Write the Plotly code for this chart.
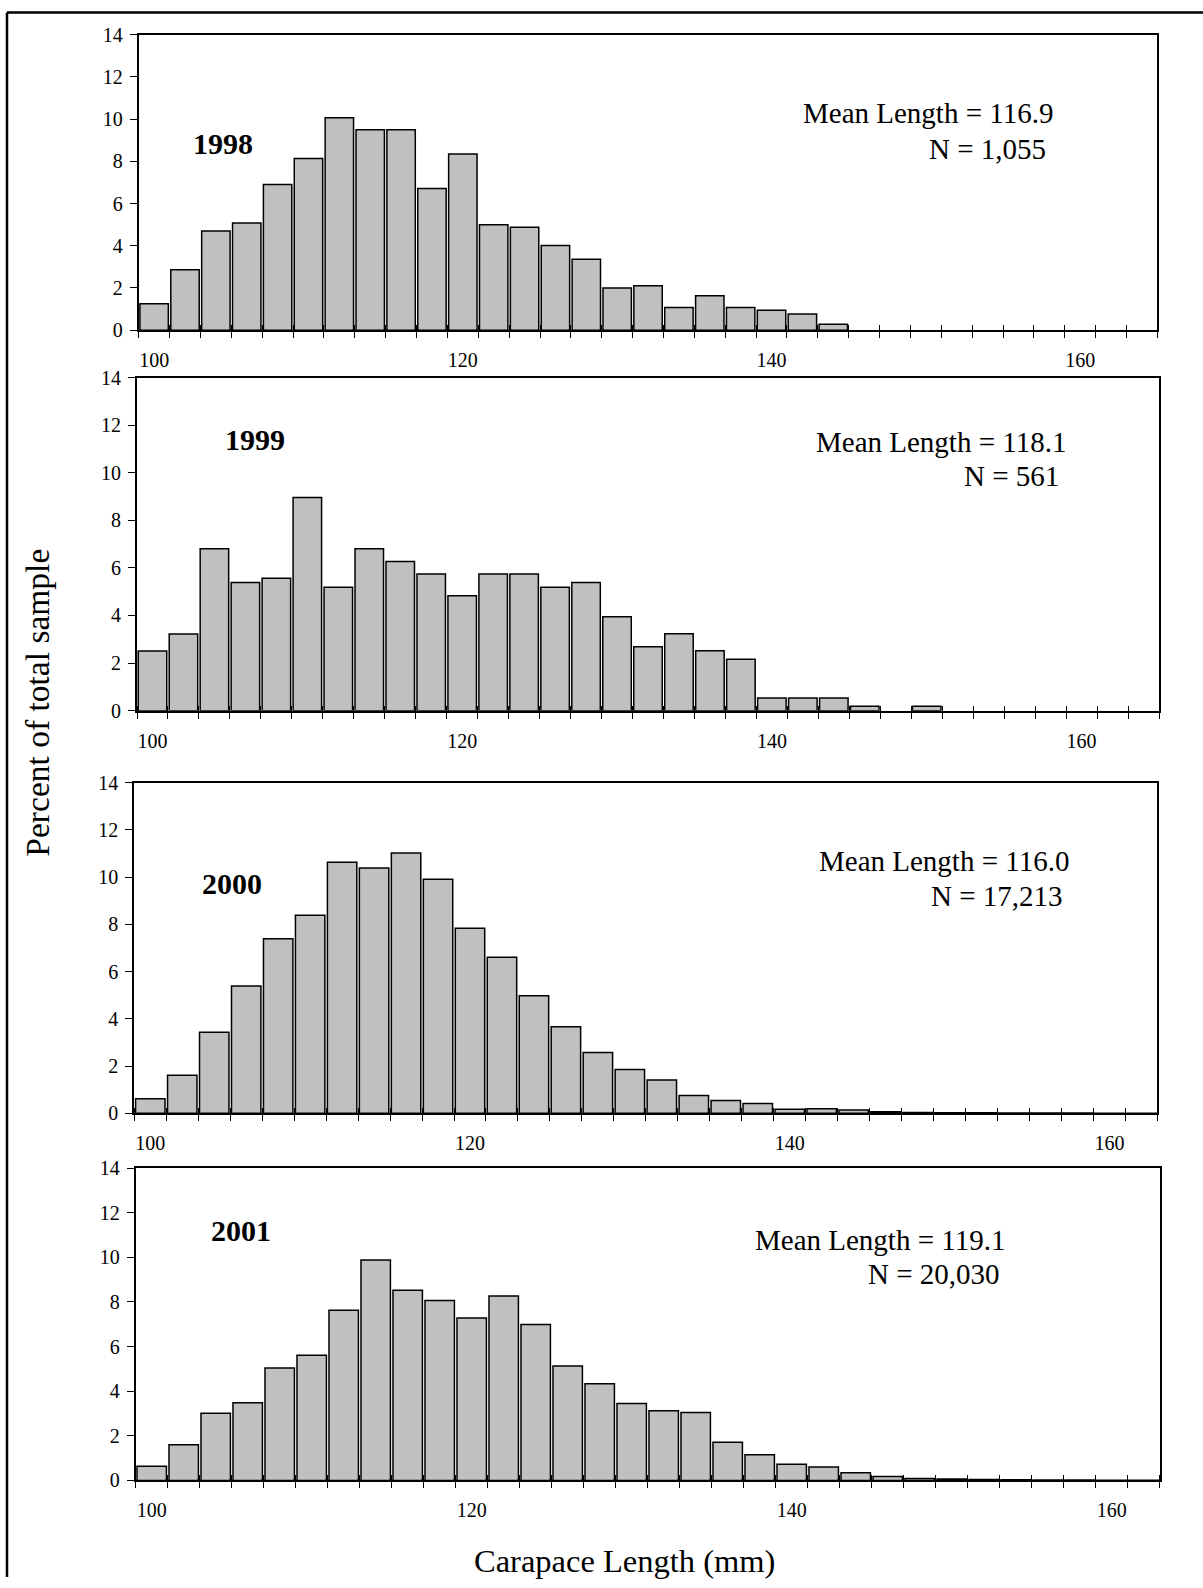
import plotly.graph_objects as go

# ---------------- data ----------------
bins_long = list(range(100, 166, 2))   # 33 bins (1998, 1999)
bins_short = list(range(100, 164, 2))  # 32 bins (2000, 2001)

pct_1998 = [1.25, 2.87, 4.70, 5.08, 6.91, 8.14, 10.07, 9.50, 9.50, 6.71, 8.35,
            5.00, 4.88, 4.01, 3.36, 2.00, 2.10, 1.07, 1.63, 1.07, 0.95, 0.77,
            0.28, 0, 0, 0, 0, 0, 0, 0, 0, 0, 0]
pct_1999 = [2.51, 3.22, 6.80, 5.39, 5.56, 8.96, 5.19, 6.80, 6.27, 5.74, 4.83,
            5.74, 5.74, 5.19, 5.39, 3.95, 2.69, 3.23, 2.52, 2.16, 0.53, 0.53,
            0.53, 0.18, 0, 0.18, 0, 0, 0, 0, 0, 0, 0]
pct_2000 = [0.62, 1.61, 3.43, 5.39, 7.39, 8.39, 10.63, 10.38, 11.02, 9.91, 7.84,
            6.61, 4.98, 3.67, 2.58, 1.86, 1.41, 0.76, 0.55, 0.42, 0.17, 0.20,
            0.14, 0.07, 0.04, 0.03, 0.03, 0.02, 0.02, 0.02, 0.01, 0.01]
pct_2001 = [0.64, 1.60, 3.01, 3.48, 5.04, 5.61, 7.63, 9.88, 8.52, 8.06, 7.28,
            8.27, 6.99, 5.13, 4.33, 3.45, 3.12, 3.04, 1.71, 1.15, 0.73, 0.60,
            0.34, 0.18, 0.09, 0.06, 0.04, 0.03, 0.02, 0.02, 0.01, 0.01]

years = ["1998", "1999", "2000", "2001"]
mean_labels = ["Mean Length = 116.9", "Mean Length = 118.1",
               "Mean Length = 116.0", "Mean Length = 119.1"]
n_labels = ["N = 1,055", "N = 561", "N = 17,213", "N = 20,030"]
x_tick_vals = [100, 120, 140, 160]
y_tick_vals = [0, 2, 4, 6, 8, 10, 12, 14]

series = [(bins_long, pct_1998), (bins_long, pct_1999),
          (bins_short, pct_2000), (bins_short, pct_2001)]

# ---------------- layout geometry (target pixels) ----------------
W, H = 1203, 1588
FONT = "Liberation Serif, Times New Roman, serif"
panels = [(138.7, 1157.4, 32.7, 328.3), (137.0, 1159.0, 375.7, 709.0),
          (134.3, 1157.4, 781.0, 1112.0), (135.7, 1159.7, 1166.7, 1479.3)]
year_pos = [(223, 143), (255, 440), (232, 884), (241, 1231)]
mean_pos = [(1055, 113), (1068, 442), (1071, 861), (1007, 1241)]
n_pos = [(1048, 149), (1061, 476), (1065, 896), (1002, 1275)]

def px(x):
    return x / W

def ly(y):
    # vertical calibration of the rendered page (layout pixels)
    return (y - 8.9) / 0.9868

def py(y):
    return 1 - ly(y) / H

fig = go.Figure()
annotations = []
for i, (bins, vals) in enumerate(series):
    k = "" if i == 0 else str(i + 1)
    kk = str(i + 5)
    fig.add_trace(go.Bar(
        x=bins, y=vals, xaxis="x" + k, yaxis="y" + k,
        marker=dict(color="#C0C0C0",
                    line=dict(color="black",
                              width=[1.5 if v > 0 else 0 for v in vals])),
        showlegend=False, hoverinfo="x+y"))
    # empty helper trace carrying the inner half of the crossing ticks
    fig.add_trace(go.Scatter(x=[], y=[], xaxis="x" + kk, yaxis="y" + k,
                             showlegend=False, hoverinfo="skip"))
    l, r, t, b = panels[i]
    lo = bins[0] - 1
    hi = bins[-1] + 1
    bounds = [v - 1 for v in bins] + [hi]
    fig.layout["xaxis" + k] = dict(
        domain=[px(l), px(r)], anchor="y" + k, range=[lo, hi],
        tickmode="array", tickvals=x_tick_vals,
        ticks="outside", ticklen=11, tickcolor="rgba(0,0,0,0)",
        tickfont=dict(family=FONT, size=20, color="black"),
        showline=True, linecolor="black", linewidth=2, mirror=True,
        showgrid=False, zeroline=False,
        minor=dict(tickmode="array", tickvals=bounds,
                   ticks="outside", ticklen=6, tickwidth=1, tickcolor="black",
                   showgrid=False))
    fig.layout["xaxis" + kk] = dict(
        domain=[px(l), px(r)], anchor="y" + k, overlaying="x" + k,
        range=[lo, hi], side="bottom",
        tickmode="array", tickvals=[], showticklabels=False,
        showline=False, showgrid=False, zeroline=False,
        minor=dict(tickmode="array", tickvals=bounds,
                   ticks="inside", ticklen=5, tickwidth=1, tickcolor="black",
                   showgrid=False))
    fig.layout["yaxis" + k] = dict(
        domain=[py(b), py(t)], anchor="x" + k, range=[0, 14],
        tickmode="array", tickvals=y_tick_vals,
        ticks="outside", ticklen=7, tickwidth=1, tickcolor="black",
        ticklabelstandoff=3,
        tickfont=dict(family=FONT, size=20, color="black"),
        showline=True, linecolor="black", linewidth=2, mirror=True,
        showgrid=False, zeroline=False)
    annotations.append(dict(
        text="<b>" + years[i] + "</b>", x=px(year_pos[i][0]), y=py(year_pos[i][1] - 2),
        xref="paper", yref="paper", xanchor="center", yanchor="middle",
        showarrow=False, font=dict(family=FONT, size=30, color="black")))
    annotations.append(dict(
        text=mean_labels[i], x=px(mean_pos[i][0]), y=py(mean_pos[i][1] - 2),
        xref="paper", yref="paper", xanchor="right", yanchor="middle",
        showarrow=False, font=dict(family=FONT, size=29, color="black")))
    annotations.append(dict(
        text=n_labels[i], x=px(n_pos[i][0]), y=py(n_pos[i][1] - 2),
        xref="paper", yref="paper", xanchor="right", yanchor="middle",
        showarrow=False, font=dict(family=FONT, size=29, color="black")))

annotations.append(dict(
    text="Percent of total sample", x=px(38), y=py(701), textangle=-90,
    xref="paper", yref="paper", xanchor="center", yanchor="middle",
    showarrow=False, font=dict(family=FONT, size=33.5, color="black")))
annotations.append(dict(
    text="Carapace Length (mm)", x=px(624), y=py(1559.5),
    xref="paper", yref="paper", xanchor="center", yanchor="middle",
    showarrow=False, font=dict(family=FONT, size=32.5, color="black")))

fig.update_layout(
    width=W, height=H, margin=dict(l=0, r=0, t=0, b=0),
    paper_bgcolor="white", plot_bgcolor="white",
    bargap=0.08, annotations=annotations,
    shapes=[
        dict(type="line", xref="paper", yref="paper", x0=px(7), x1=1.0,
             y0=1 - 1.5 / H, y1=1 - 1.5 / H, line=dict(color="black", width=2.5)),
        dict(type="line", xref="paper", yref="paper", x0=px(7), x1=px(7),
             y0=1 - 1.5 / H, y1=0.0, line=dict(color="black", width=2.5)),
    ])

fig.write_html(
    "out.html",
    config={"displayModeBar": False},
    post_script="document.documentElement.style.margin='0';"
                "document.body.style.margin='0';"
                "document.body.style.padding='0';"
                "document.documentElement.style.overflow='hidden';"
                "document.body.style.overflow='hidden';")
